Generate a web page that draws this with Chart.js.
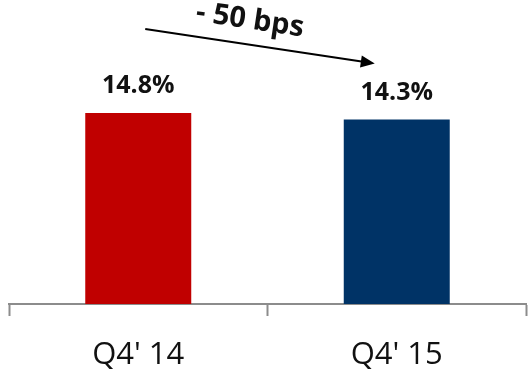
<!DOCTYPE html>
<html>
<head>
<meta charset="utf-8">
<script src="https://cdn.jsdelivr.net/npm/chart.js@4"></script>
<style>
  html, body { margin: 0; padding: 0; background: #fff; }
  #wrap { width: 532px; height: 369px; position: relative; }
</style>
</head>
<body>
<div id="wrap"><canvas id="marginChart"></canvas></div>
<script>
// data
const quarters = ["Q4' 14", "Q4' 15"];
const marginPct = [14.8, 14.3];
const barColors = ['#C00000', '#003366'];
const changeLabel = '- 50 bps';

// value labels above bars + the arrow annotation
const labelsPlugin = {
    id: 'labels',
    afterDatasetsDraw(chart) {
        const ctx = chart.ctx;
        const bars = chart.getDatasetMeta(0).data;
        ctx.save();
        ctx.fillStyle = '#111';
        ctx.font = 'bold 25px "Open Sans"';
        ctx.textAlign = 'center';
        ctx.textBaseline = 'alphabetic';
        bars.forEach((bar, i) => {
            ctx.fillText(marginPct[i].toFixed(1) + '%', bar.x, bar.y - 20);
        });

        // arrow from first bar towards second
        const x0 = bars[0].x + 7, y0 = bars[0].y - 84;
        const x1 = bars[1].x - 22, y1 = bars[1].y - 56;
        const ang = Math.atan2(y1 - y0, x1 - x0);
        ctx.strokeStyle = '#000';
        ctx.lineWidth = 2;
        ctx.beginPath();
        ctx.moveTo(x0, y0);
        ctx.lineTo(x1 - 10 * Math.cos(ang), y1 - 10 * Math.sin(ang));
        ctx.stroke();
        ctx.fillStyle = '#000';
        ctx.beginPath();
        ctx.moveTo(x1, y1);
        ctx.lineTo(x1 - 14 * Math.cos(ang) + 6 * Math.sin(ang), y1 - 14 * Math.sin(ang) - 6 * Math.cos(ang));
        ctx.lineTo(x1 - 14 * Math.cos(ang) - 6 * Math.sin(ang), y1 - 14 * Math.sin(ang) + 6 * Math.cos(ang));
        ctx.closePath();
        ctx.fill();

        ctx.translate((x0 + x1) / 2 - 10, (y0 + y1) / 2 - 26);
        ctx.rotate(ang);
        ctx.fillStyle = '#111';
        ctx.font = 'bold 29px "Open Sans"';
        ctx.textBaseline = 'middle';
        ctx.fillText(changeLabel, 0, 0);
        ctx.restore();
    }
};

const ctx = document.getElementById('marginChart').getContext('2d');
new Chart(ctx, {
    type: 'bar',
    data: {
        labels: quarters,
        datasets: [{
            data: marginPct,
            backgroundColor: barColors,
            barPercentage: 0.41,
            categoryPercentage: 1
        }]
    },
    options: {
        responsive: true,
        maintainAspectRatio: false,
        animation: false,
        layout: { padding: { left: 9, right: 6, top: 46, bottom: 0 } },
        plugins: {
            legend: { display: false },
            tooltip: { enabled: false }
        },
        scales: {
            y: { display: false, min: 0, max: 20 },
            x: {
                afterFit(scale) { scale.height = 65; },
                border: { display: true, color: '#8c8c8c', width: 2 },
                grid: {
                    display: true,
                    drawOnChartArea: false,
                    drawTicks: true,
                    tickLength: 12,
                    tickWidth: 2,
                    color: '#8c8c8c'
                },
                ticks: {
                    color: '#111',
                    padding: 21,
                    font: { family: 'Open Sans', size: 31 }
                }
            }
        }
    },
    plugins: [labelsPlugin]
});
</script>
</body>
</html>
